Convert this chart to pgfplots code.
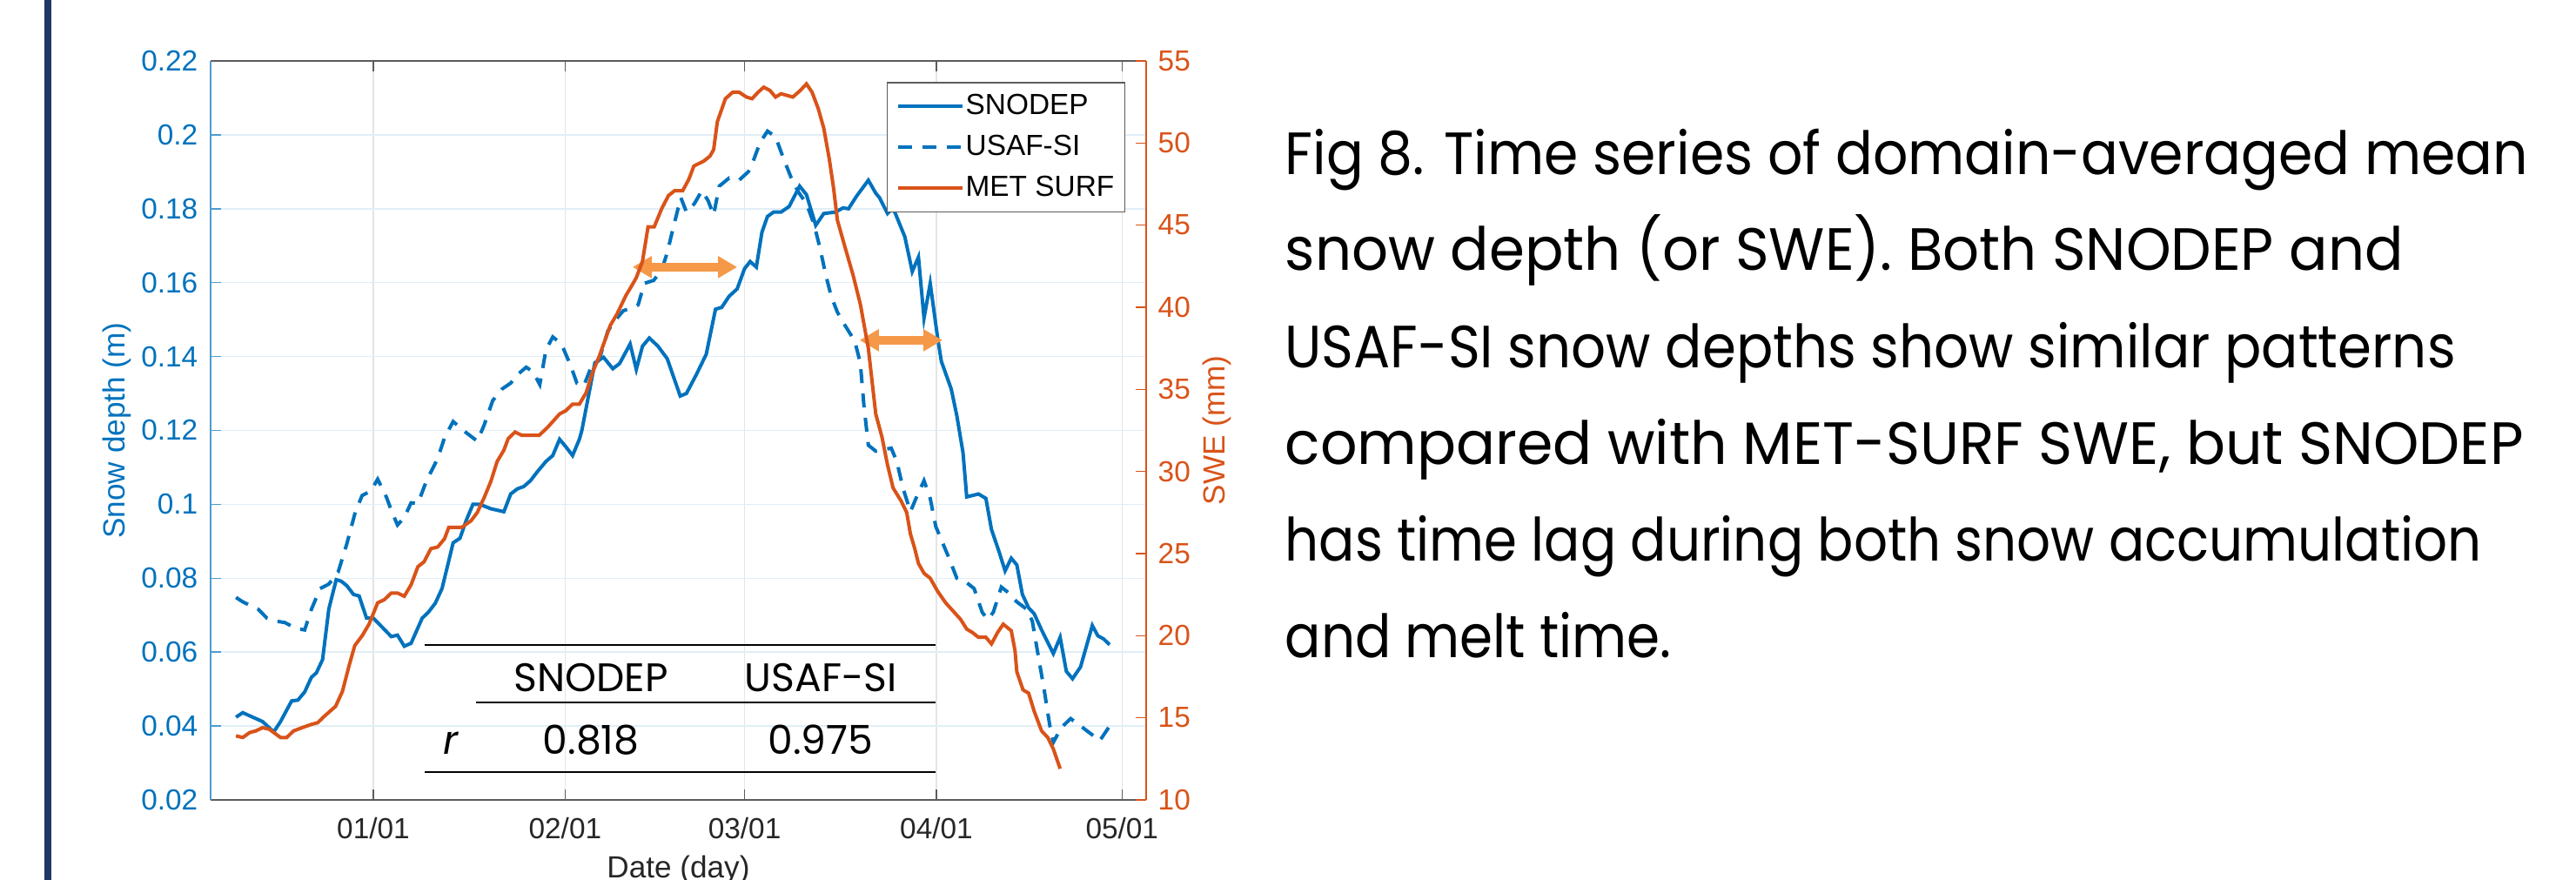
\documentclass[border=0pt]{standalone}
\usepackage{fontspec}
\setmainfont{Liberation Sans}
\newfontfamily\gothic{Poppins}
\usepackage{graphicx}
\usepackage{pgfplots}
\usepackage{pgfplotstable}
\pgfplotsset{compat=1.18}
\usetikzlibrary{arrows.meta}

\definecolor{mblue}{RGB}{0,114,189}
\definecolor{morange}{RGB}{217,83,25}
\definecolor{arrowor}{RGB}{245,152,72}
\definecolor{navy}{RGB}{31,56,100}
\definecolor{axgray}{RGB}{38,38,38}

\newcommand\axfont{\fontsize{9.5pt}{11pt}\selectfont}
% caption line squeezed to the width it has in the figure
\newcommand\capline[2]{\resizebox{#1}{\height}{#2}}

% day 0 = 01/01
\pgfplotstableread{
day val
-22.2 0.0424
-21.1 0.0436
-17.9 0.0412
-16.1 0.0384
-15.0 0.0412
-13.2 0.0468
-12.2 0.0470
-11.1 0.0492
-10.0 0.0532
-9.2 0.0544
-8.2 0.0580
-7.2 0.0716
-6.0 0.0796
-5.2 0.0792
-4.3 0.0780
-3.2 0.0756
-2.3 0.0752
-1.1 0.0692
0.0 0.0692
1.4 0.0668
2.9 0.0642
3.9 0.0646
5.0 0.0616
6.1 0.0624
7.9 0.0692
8.9 0.0708
10.0 0.0732
11.1 0.0772
11.8 0.0820
12.9 0.0896
14.0 0.0908
15.0 0.0956
16.1 0.1000
17.2 0.1000
19.0 0.0988
21.1 0.0980
22.2 0.1028
23.3 0.1042
24.3 0.1048
25.4 0.1064
26.5 0.1088
27.9 0.1116
29.0 0.1132
30.1 0.1176
31.1 0.1156
32.2 0.1132
33.3 0.1176
33.7 0.1200
35.8 0.1383
37.2 0.1398
38.7 0.1367
39.8 0.1381
41.5 0.1434
42.5 0.1365
43.5 0.1428
44.6 0.1450
46.0 0.1428
47.5 0.1394
49.6 0.1293
50.6 0.1300
52.2 0.1351
53.8 0.1406
55.3 0.1528
56.3 0.1533
57.5 0.1563
58.8 0.1583
60.0 0.1638
60.9 0.1657
61.9 0.1642
62.8 0.1736
63.7 0.1779
64.7 0.1791
65.9 0.1791
67.2 0.1806
68.9 0.1861
70.0 0.1838
71.5 0.1755
72.8 0.1787
74.7 0.1791
75.9 0.1802
76.8 0.1800
78.1 0.1834
80.0 0.1877
81.2 0.1842
81.8 0.1830
83.1 0.1787
84.0 0.1802
85.9 0.1724
87.1 0.1630
88.1 0.1669
89.0 0.1504
90.0 0.1598
91.2 0.1450
91.8 0.1387
93.4 0.1312
94.3 0.1240
95.3 0.1140
95.9 0.1020
97.8 0.1028
99.0 0.1016
99.9 0.0932
101.2 0.0868
102.1 0.0820
103.1 0.0854
104.0 0.0836
104.9 0.0756
105.9 0.0720
106.8 0.0704
108.0 0.0660
109.9 0.0596
111.0 0.0640
112.0 0.0548
113.0 0.0528
114.3 0.0560
116.2 0.0672
117.1 0.0644
118.0 0.0636
119.0 0.0620
}\snodep

\pgfplotstableread{
day val
-22.2 0.0748
-21.1 0.0736
-18.6 0.0716
-17.2 0.0692
-15.8 0.0684
-14.3 0.0680
-12.5 0.0664
-11.1 0.0660
-10.0 0.0716
-8.6 0.0772
-7.2 0.0784
-5.7 0.0816
-4.3 0.0892
-2.9 0.0980
-1.8 0.1024
-0.4 0.1036
0.7 0.1068
2.1 0.1020
2.9 0.0984
3.9 0.0944
5.0 0.0964
6.1 0.1004
7.2 0.1002
8.6 0.1064
10.4 0.1124
11.5 0.1180
12.9 0.1224
15.0 0.1194
16.8 0.1171
17.9 0.1214
19.3 0.1281
20.8 0.1312
22.2 0.1328
23.3 0.1351
24.7 0.1371
25.8 0.1359
26.9 0.1324
27.9 0.1418
29.0 0.1453
30.4 0.1434
31.9 0.1375
32.9 0.1328
34.0 0.1320
35.1 0.1367
36.5 0.1391
37.9 0.1469
39.0 0.1496
40.4 0.1524
41.5 0.1530
42.8 0.1540
43.8 0.1598
45.3 0.1606
46.6 0.1634
47.5 0.1681
48.5 0.1751
49.7 0.1830
50.6 0.1791
51.9 0.1814
53.1 0.1849
54.1 0.1822
55.0 0.1783
55.9 0.1861
57.5 0.1883
59.1 0.1877
60.6 0.1900
61.2 0.1920
62.5 0.1979
63.7 0.2010
65.0 0.1995
66.2 0.1940
67.5 0.1885
68.7 0.1845
70.0 0.1814
71.2 0.1759
72.2 0.1693
73.1 0.1622
74.0 0.1563
75.0 0.1520
76.2 0.1485
77.8 0.1442
78.7 0.1383
79.3 0.1265
80.0 0.1160
81.2 0.1144
82.5 0.1148
83.7 0.1152
84.6 0.1116
85.6 0.1044
86.8 0.0980
87.8 0.1020
89.0 0.1064
90.0 0.1016
90.9 0.0940
92.1 0.0892
93.1 0.0852
94.3 0.0800
95.6 0.0792
97.1 0.0772
98.4 0.0708
99.3 0.0688
100.2 0.0708
101.5 0.0776
102.4 0.0764
104.0 0.0736
105.6 0.0716
106.5 0.0684
107.4 0.0596
108.4 0.0500
109.3 0.0404
109.9 0.0356
111.2 0.0396
112.7 0.0420
114.3 0.0400
116.2 0.0376
117.4 0.0360
119.0 0.0400
}\usafsi

\pgfplotstableread{
day val
-22.2 13.9
-21.1 13.8
-20.0 14.1
-19.0 14.2
-17.9 14.4
-16.8 14.3
-15.0 13.8
-14.0 13.8
-12.9 14.2
-11.5 14.4
-10.0 14.6
-9.0 14.7
-7.9 15.1
-6.1 15.7
-5.0 16.6
-3.9 18.2
-3.0 19.4
-1.8 20.0
-0.7 20.7
0.7 22.0
1.8 22.2
2.9 22.6
3.9 22.6
5.0 22.4
6.1 23.1
7.2 24.2
8.2 24.5
9.3 25.3
10.4 25.4
11.5 25.9
12.2 26.6
13.2 26.6
14.3 26.6
15.8 27.0
16.8 27.5
17.9 28.4
19.0 29.4
20.0 30.6
21.1 31.3
21.8 32.0
22.9 32.4
24.0 32.2
25.4 32.2
26.8 32.2
28.2 32.7
30.1 33.5
31.1 33.7
32.2 34.1
33.3 34.1
34.4 34.8
35.4 36.0
36.5 37.0
38.3 38.9
39.4 39.6
40.8 40.7
41.9 41.4
42.5 41.8
43.5 42.8
44.4 44.9
45.4 44.9
46.6 46.0
47.7 46.8
48.7 47.1
50.0 47.1
51.0 47.8
51.8 48.6
53.4 48.9
54.4 49.2
55.0 49.6
55.6 51.3
56.9 52.7
58.1 53.1
59.1 53.1
60.3 52.8
61.2 52.7
62.2 53.1
63.1 53.4
64.1 53.2
65.0 52.8
65.9 53.0
67.8 52.8
69.0 53.2
70.0 53.6
70.9 53.1
71.9 52.1
72.8 50.9
73.7 49.0
74.4 47.2
75.0 45.3
76.2 43.7
77.5 42.0
78.7 40.2
80.0 37.5
81.2 33.5
82.2 32.1
83.1 30.4
84.0 29.0
85.3 28.2
86.2 27.5
86.8 26.2
87.5 25.3
88.1 24.4
89.0 23.8
90.0 23.5
91.2 22.7
92.5 22.0
93.7 21.5
94.9 21.0
95.9 20.4
96.8 20.2
97.8 19.9
99.0 19.9
99.9 19.5
100.9 20.2
101.8 20.7
103.1 20.3
103.7 19.1
104.0 17.8
105.0 16.7
105.9 16.5
106.8 15.4
108.0 14.2
109.0 13.8
109.9 13.1
111.0 11.9
}\metsurf

\pgfplotsset{
  twin/.style={
    scale only axis,
    width=107.5mm, height=84.9mm,
    at={(24.2mm,9.2mm)}, anchor=south west,
    xmin=-26.3, xmax=124.9,
    tick align=inside,
    major tick length=1.2mm,
    tick label style={font=\axfont},
    label style={font=\axfont},
    /pgf/number format/assume math mode=true,
  },
}

\begin{document}
\begin{tikzpicture}
\useasboundingbox (0,0) rectangle (296mm,101.1mm);
\fill[navy] (5.1mm,0) rectangle (5.9mm,101.1mm);

\begin{axis}[
  twin,
  separate axis lines,
  axis x line*=box,
  axis y line*=left,
  ymin=0.02, ymax=0.22,
  xtick={0,31,60,91,121},
  xticklabels={01/01,02/01,03/01,04/01,05/01},
  ytick={0.02,0.04,0.06,0.08,0.1,0.12,0.14,0.16,0.18,0.2,0.22},
  yticklabel style={/pgf/number format/fixed, /pgf/number format/precision=2,
    text=mblue, inner sep=0pt, xshift=-1.4mm},
  xticklabel style={text=axgray, inner sep=0pt, yshift=-2mm},
  x axis line style={draw=axgray!75, line width=0.15mm},
  y axis line style={draw=mblue!70, line width=0.15mm},
  xtick style={draw=axgray!75, line width=0.15mm},
  ytick style={draw=mblue!70, line width=0.15mm},
  xmajorgrids, ymajorgrids,
  x grid style={draw=axgray!12, line width=0.15mm},
  y grid style={draw=mblue!12, line width=0.15mm},
  xlabel={Date (day)},
  ylabel={Snow depth (m)},
  every axis x label/.style={at={(axis description cs:0.5,0)}, anchor=base,
    yshift=-9.0mm, text=axgray},
  every axis y label/.style={at={(axis description cs:-0.1005,0.5)},
    rotate=90, anchor=center, text=mblue},
]
\addplot[mblue, line width=0.4mm] table {\snodep};
\addplot[mblue, line width=0.4mm, dash pattern=on 1.6mm off 1.2mm] table {\usafsi};
\addplot[arrowor, line width=1mm,
  {Triangle[width=2.4mm,length=2.2mm]}-{Triangle[width=2.4mm,length=2.2mm]}]
  coordinates {(41.9,0.1642) (58.8,0.1642)};
\addplot[arrowor, line width=1mm,
  {Triangle[width=2.4mm,length=2.2mm]}-{Triangle[width=2.4mm,length=2.2mm]}]
  coordinates {(78.6,0.1444) (92.0,0.1444)};
\end{axis}

\begin{axis}[
  twin,
  axis x line=none,
  axis y line*=right,
  ymin=10, ymax=55,
  ytick={10,15,20,25,30,35,40,45,50,55},
  yticklabel style={text=morange, inner sep=0pt, xshift=1.3mm},
  y axis line style={draw=morange, line width=0.15mm},
  ytick style={draw=morange, line width=0.15mm},
  ylabel={SWE (mm)},
  every axis y label/.style={at={(axis description cs:1.0753,0.5)},
    rotate=90, anchor=center, text=morange},
  legend style={at={(axis description cs:0.9777,0.9717)}, anchor=north east,
    draw=axgray!75, line width=0.15mm, fill=white, font=\axfont,
    inner xsep=1mm, inner ysep=1.1mm, row sep=1.45mm,
    nodes={inner sep=0.2mm}},
  legend cell align=left,
  legend image code/.code={\draw[#1] (0mm,0mm) -- (7.4mm,0mm);},
]
\addlegendimage{mblue, line width=0.4mm}
\addlegendentry{SNODEP}
\addlegendimage{mblue, line width=0.4mm, dash pattern=on 1.6mm off 1.2mm}
\addlegendentry{USAF-SI}
\addplot[morange, line width=0.4mm] table {\metsurf};
\addlegendentry{MET SURF}
\end{axis}

% correlation table
\draw[black, line width=0.25mm] (48.8mm,27.0mm) -- (107.5mm,27.0mm);
\draw[black, line width=0.25mm] (54.7mm,20.4mm) -- (107.5mm,20.4mm);
\draw[black, line width=0.25mm] (48.8mm,12.4mm) -- (107.5mm,12.4mm);
\begin{scope}[every node/.style={inner sep=0pt, anchor=base,
    font=\gothic\fontsize{13pt}{15pt}\selectfont}]
  \node at (67.9mm,21.6mm) {SNODEP};
  \node at (94.3mm,21.6mm) {USAF-SI};
  \node at (51.8mm,14.4mm) {\itshape r};
  \node at (67.9mm,14.4mm) {0.818};
  \node at (94.3mm,14.4mm) {0.975};
\end{scope}

% caption
\begin{scope}[every node/.style={inner sep=0pt, anchor=base west,
    font=\gothic\fontsize{19.5pt}{22pt}\selectfont}]
  \node at (147.6mm,81.0mm) {\capline{142.8mm}{Fig 8. Time series of domain-averaged mean}};
  \node at (147.6mm,70.0mm) {\capline{128.5mm}{snow depth (or SWE). Both SNODEP and}};
  \node at (147.6mm,58.8mm) {\capline{134.5mm}{USAF-SI snow depths show similar patterns}};
  \node at (147.6mm,47.7mm) {\capline{142.3mm}{compared with MET-SURF SWE, but SNODEP}};
  \node at (147.6mm,36.6mm) {\capline{137.5mm}{has time lag during both snow accumulation}};
  \node at (147.6mm,25.5mm) {\capline{44.4mm}{and melt time.}};
\end{scope}
\end{tikzpicture}
\end{document}
